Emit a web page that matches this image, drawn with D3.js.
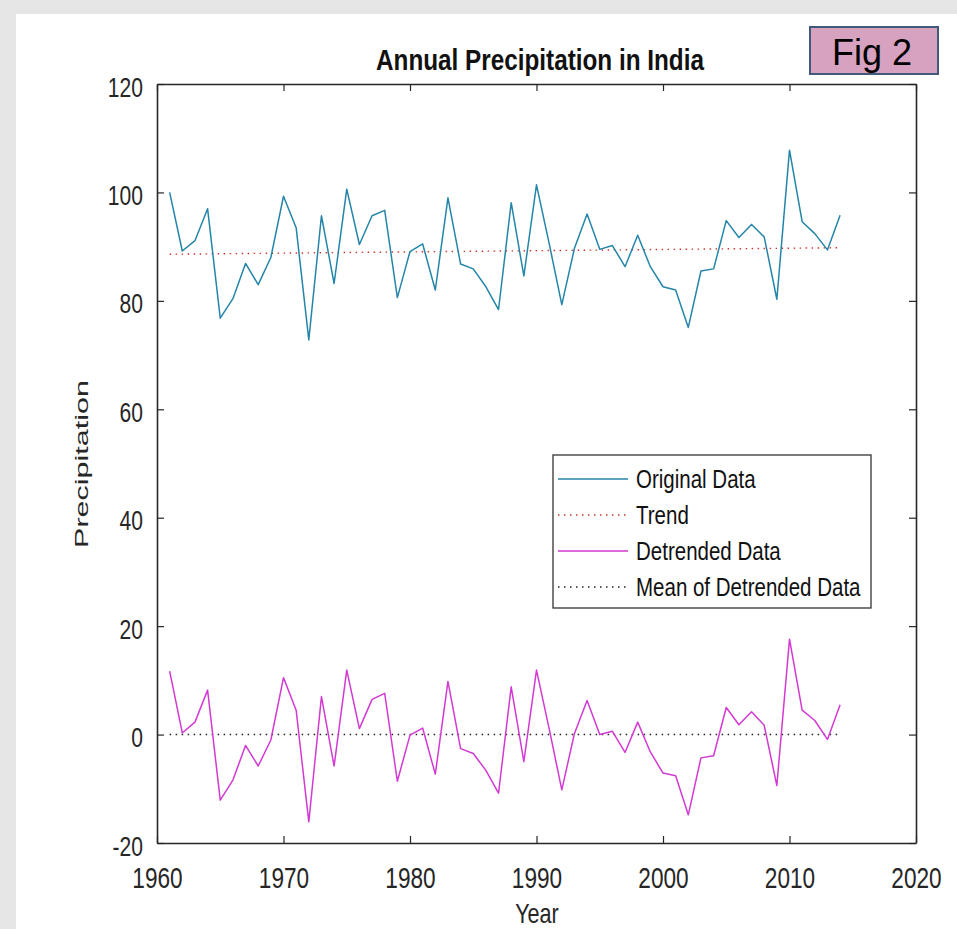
<!DOCTYPE html>
<html>
<head>
<meta charset="utf-8">
<script src="https://cdn.jsdelivr.net/npm/d3@7"></script>
<style>
  html, body { margin: 0; padding: 0; background: #e6e6e6; }
  svg { display: block; }
  text { font-family: "Liberation Sans", Arial, Helvetica, sans-serif; }
</style>
</head>
<body>
<svg id="chart" width="957" height="929"></svg>
<script>
// Annual precipitation series, 1961–2014
const years = d3.range(1961, 2015);
const original = [
  100.0, 89.2, 91.1, 97.0, 76.8, 80.4, 86.9, 83.0, 88.0, 99.3,
  93.5, 72.8, 95.7, 83.2, 100.6, 90.4, 95.7, 96.7, 80.6, 89.1,
  90.5, 82.0, 99.0, 86.8, 85.9, 82.6, 78.4, 98.1, 84.6, 101.4,
  90.6, 79.3, 89.7, 96.0, 89.5, 90.2, 86.3, 92.1, 86.3, 82.6,
  82.0, 75.1, 85.5, 85.9, 94.8, 91.7, 94.1, 91.8, 80.3, 107.8,
  94.6, 92.4, 89.4, 95.8
];
const detrended = [
  11.7, 0.3, 2.3, 8.2, -12.1, -8.4, -2.0, -5.8, -1.0, 10.5,
  4.5, -16.1, 7.0, -5.8, 11.9, 1.1, 6.5, 7.6, -8.6, -0.1,
  1.2, -7.3, 9.8, -2.6, -3.5, -6.6, -10.8, 8.8, -5.0, 11.9,
  1.1, -10.2, 0.2, 6.3, 0.0, 0.6, -3.3, 2.3, -3.2, -7.1,
  -7.6, -14.8, -4.3, -3.9, 5.0, 1.8, 4.2, 1.7, -9.4, 17.6,
  4.5, 2.6, -0.9, 5.5
];
// Linear trend end points and the mean of the detrended series
const trendYears = [1961, 2014];
const trendValues = [88.6, 89.8];
const meanYears = [1961, 2014];
const meanValues = [0, 0];

const xTicks = [1960, 1970, 1980, 1990, 2000, 2010, 2020];
const yTicks = [-20, 0, 20, 40, 60, 80, 100, 120];
const legendLabels = ["Original Data", "Trend", "Detrended Data", "Mean of Detrended Data"];

const svg = d3.select("#chart");

// white figure panel on the grey page
svg.append("rect").attr("x", 16).attr("y", 14).attr("width", 957 - 16).attr("height", 929 - 14)
  .attr("fill", "#ffffff");

const x = d3.scaleLinear().domain([1960, 2020]).range([157, 916]);
const y = d3.scaleLinear().domain([-20, 120]).range([843, 84]);

const axisColor = "#262626";
const tickScale = 0.78;
const plainNumber = d => String(d);   // ASCII hyphen for negatives

// bottom axis with labels
const gB = svg.append("g").attr("transform", `translate(0,${y(-20)})`)
  .call(d3.axisBottom(x).tickValues(xTicks).tickFormat(plainNumber)
    .tickSizeInner(-7).tickSizeOuter(0).tickPadding(0));
gB.selectAll("text").attr("y", 0).attr("dy", null)
  .attr("transform", `translate(0,45) scale(${tickScale},1)`)
  .style("font-size", "29px").attr("fill", axisColor);

// left axis with labels
const gL = svg.append("g").attr("transform", `translate(${x(1960)},0)`)
  .call(d3.axisLeft(y).tickValues(yTicks).tickFormat(plainNumber)
    .tickSizeInner(-7).tickSizeOuter(0).tickPadding(0));
gL.selectAll("text").attr("x", 0).attr("dy", null)
  .attr("transform", `translate(-14,12) scale(${tickScale},1)`)
  .style("font-size", "27px").attr("fill", axisColor);

// top and right axes: ticks only
svg.append("g").attr("transform", `translate(0,${y(120)})`)
  .call(d3.axisTop(x).tickValues(xTicks).tickFormat("").tickSizeInner(-7).tickSizeOuter(0));
svg.append("g").attr("transform", `translate(${x(2020)},0)`)
  .call(d3.axisRight(y).tickValues(yTicks).tickFormat("").tickSizeInner(-7).tickSizeOuter(0));

svg.selectAll(".domain").attr("stroke", axisColor).attr("stroke-width", 1.6);
svg.selectAll(".tick line").attr("stroke", axisColor).attr("stroke-width", 1.2);

const line = d3.line().x(d => x(d[0])).y(d => y(d[1]));

svg.append("path").datum(d3.zip(trendYears, trendValues)).attr("d", line)
  .attr("fill", "none").attr("stroke", "#d0362c").attr("stroke-width", 1.4)
  .attr("stroke-dasharray", "1.5,4.5");
svg.append("path").datum(d3.zip(meanYears, meanValues)).attr("d", line)
  .attr("fill", "none").attr("stroke", "#222222").attr("stroke-width", 1.4)
  .attr("stroke-dasharray", "1.5,4.5");
svg.append("path").datum(d3.zip(years, original)).attr("d", line)
  .attr("fill", "none").attr("stroke", "#2585a8").attr("stroke-width", 1.5)
  .attr("stroke-linejoin", "round");
svg.append("path").datum(d3.zip(years, detrended)).attr("d", line)
  .attr("fill", "none").attr("stroke", "#d23ad2").attr("stroke-width", 1.5)
  .attr("stroke-linejoin", "round");

// title
svg.append("text").attr("transform", "translate(540,70) scale(0.81,1)")
  .attr("text-anchor", "middle").style("font-size", "30px").style("font-weight", "bold")
  .attr("fill", "#111111").text("Annual Precipitation in India");

// axis titles
svg.append("text").attr("transform", "translate(537,923) scale(0.8,1)")
  .attr("text-anchor", "middle").style("font-size", "27px").attr("fill", axisColor).text("Year");
svg.append("text").attr("transform", "translate(88,464) scale(0.58,1) rotate(-90)")
  .attr("text-anchor", "middle").style("font-size", "30.5px").attr("fill", axisColor).text("Precipitation");

// legend
const legend = svg.append("g");
legend.append("rect").attr("x", 553).attr("y", 455).attr("width", 318).attr("height", 153)
  .attr("fill", "#ffffff").attr("stroke", "#333333").attr("stroke-width", 1.3);
const legendStyles = [
  { color: "#2585a8", dash: null },
  { color: "#d0362c", dash: "1.5,4.5" },
  { color: "#d23ad2", dash: null },
  { color: "#222222", dash: "1.5,4.5" }
];
const rowY = d3.scalePoint().domain(legendLabels).range([479, 587]);
legendLabels.forEach((label, i) => {
  const yy = rowY(label);
  legend.append("line").attr("x1", 558).attr("x2", 628).attr("y1", yy).attr("y2", yy)
    .attr("stroke", legendStyles[i].color).attr("stroke-width", 1.5)
    .attr("stroke-dasharray", legendStyles[i].dash);
  legend.append("text").attr("transform", `translate(636,${yy + 9}) scale(0.82,1)`)
    .style("font-size", "25px").attr("fill", "#111111").text(label);
});

// figure tag
svg.append("rect").attr("x", 810).attr("y", 27).attr("width", 128).attr("height", 47)
  .attr("fill", "#d6a2bf").attr("stroke", "#41597a").attr("stroke-width", 2);
svg.append("text").attr("x", 872).attr("y", 65).attr("text-anchor", "middle")
  .style("font-size", "36px").attr("fill", "#000000").text("Fig 2");
</script>
</body>
</html>
